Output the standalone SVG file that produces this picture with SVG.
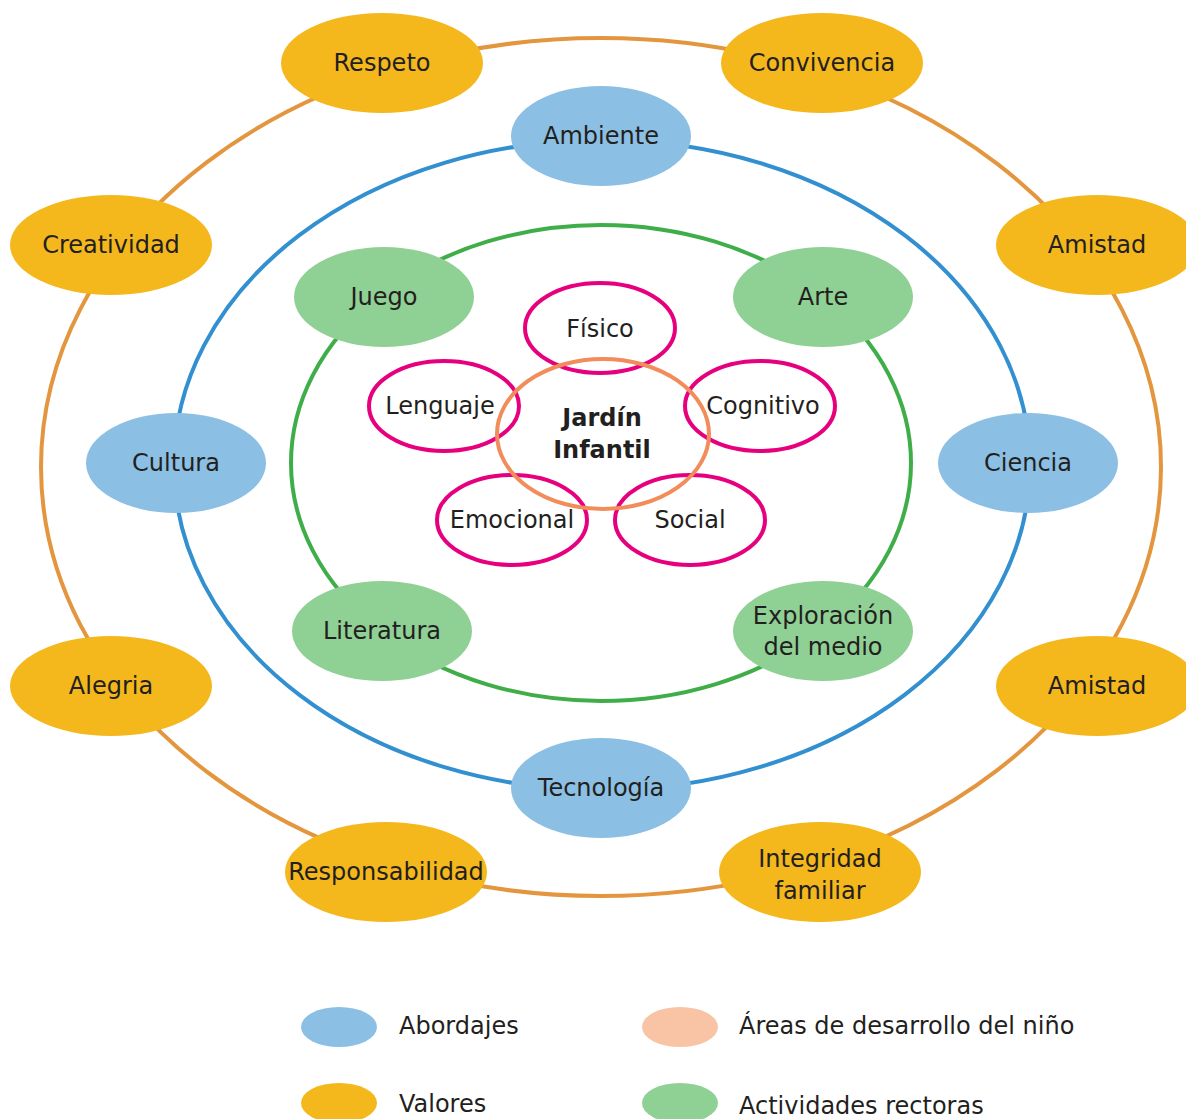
<svg xmlns="http://www.w3.org/2000/svg" width="1186" height="1119" viewBox="0 0 1186 1119">
<style>
text{font-family:"DejaVu Sans","Open Sans",sans-serif;font-size:24px;fill:#231f20;text-anchor:middle}
.ring{fill:none;stroke-width:4}
.val{fill:#f4b71c}
.abo{fill:#8bbfe3}
.act{fill:#8fd094}
.area{fill:#fff;stroke:#e6007e;stroke-width:4}
.leg{text-anchor:start}
</style>
<rect width="1186" height="1119" fill="#fff"/>
<g id="connectors">
<ellipse class="ring" cx="601" cy="467" rx="560" ry="429" stroke="#e3963e"/>
<ellipse class="ring" cx="602" cy="465" rx="428" ry="325" stroke="#3390d0"/>
<ellipse class="ring" cx="601" cy="463" rx="310" ry="238" stroke="#3fae49"/>
</g>
<g id="n-respeto"><ellipse class="val" cx="382" cy="63" rx="101" ry="50"/><text x="382" y="71">Respeto</text></g>
<g id="n-convivencia"><ellipse class="val" cx="822" cy="63" rx="101" ry="50"/><text x="822" y="71">Convivencia</text></g>
<g id="n-creatividad"><ellipse class="val" cx="111" cy="245" rx="101" ry="50"/><text x="111" y="253">Creatividad</text></g>
<g id="n-amistad1"><ellipse class="val" cx="1097" cy="245" rx="101" ry="50"/><text x="1097" y="253">Amistad</text></g>
<g id="n-alegria"><ellipse class="val" cx="111" cy="686" rx="101" ry="50"/><text x="111" y="694">Alegria</text></g>
<g id="n-amistad2"><ellipse class="val" cx="1097" cy="686" rx="101" ry="50"/><text x="1097" y="694">Amistad</text></g>
<g id="n-responsabilidad"><ellipse class="val" cx="386" cy="872" rx="101" ry="50"/><text x="386" y="880" font-size="23">Responsabilidad</text></g>
<g id="n-integridad"><ellipse class="val" cx="820" cy="872" rx="101" ry="50"/><text x="820" y="867">Integridad</text><text x="820" y="899">familiar</text></g>
<g id="n-ambiente"><ellipse class="abo" cx="601" cy="136" rx="90" ry="50"/><text x="601" y="144">Ambiente</text></g>
<g id="n-cultura"><ellipse class="abo" cx="176" cy="463" rx="90" ry="50"/><text x="176" y="471">Cultura</text></g>
<g id="n-ciencia"><ellipse class="abo" cx="1028" cy="463" rx="90" ry="50"/><text x="1028" y="471">Ciencia</text></g>
<g id="n-tecnologia"><ellipse class="abo" cx="601" cy="788" rx="90" ry="50"/><text x="601" y="796">Tecnología</text></g>
<g id="n-juego"><ellipse class="act" cx="384" cy="297" rx="90" ry="50"/><text x="384" y="305">Juego</text></g>
<g id="n-arte"><ellipse class="act" cx="823" cy="297" rx="90" ry="50"/><text x="823" y="305">Arte</text></g>
<g id="n-literatura"><ellipse class="act" cx="382" cy="631" rx="90" ry="50"/><text x="382" y="639">Literatura</text></g>
<g id="n-exploracion"><ellipse class="act" cx="823" cy="631" rx="90" ry="50"/><text x="823" y="624">Exploración</text><text x="823" y="655">del medio</text></g>
<g id="n-fisico"><ellipse class="area" cx="600" cy="328" rx="75" ry="45"/><text x="600" y="337">Físico</text></g>
<g id="n-lenguaje"><ellipse class="area" cx="444" cy="406" rx="75" ry="45"/><text x="440" y="414">Lenguaje</text></g>
<g id="n-cognitivo"><ellipse class="area" cx="760" cy="406" rx="75" ry="45"/><text x="763" y="414">Cognitivo</text></g>
<g id="n-emocional"><ellipse class="area" cx="512" cy="520" rx="75" ry="45"/><text x="512" y="528">Emocional</text></g>
<g id="n-social"><ellipse class="area" cx="690" cy="520" rx="75" ry="45"/><text x="690" y="528">Social</text></g>
<g id="n-jardin"><ellipse cx="603" cy="434" rx="106" ry="75" fill="none" stroke="#f28c5a" stroke-width="4"/><text x="602" y="426" font-weight="bold">Jardín</text><text x="602" y="458" font-weight="bold">Infantil</text></g>
<g id="legend">
<ellipse class="abo" cx="339" cy="1027" rx="38" ry="20"/><text class="leg" x="399" y="1034">Abordajes</text>
<ellipse cx="680" cy="1027" rx="38" ry="20" fill="#f9c4a6"/><text class="leg" x="739" y="1034">Áreas de desarrollo del niño</text>
<ellipse class="val" cx="339" cy="1103" rx="38" ry="20"/><text class="leg" x="399" y="1112">Valores</text>
<ellipse class="act" cx="680" cy="1103" rx="38" ry="20"/><text class="leg" x="739" y="1114">Actividades rectoras</text>
</g>
</svg>
